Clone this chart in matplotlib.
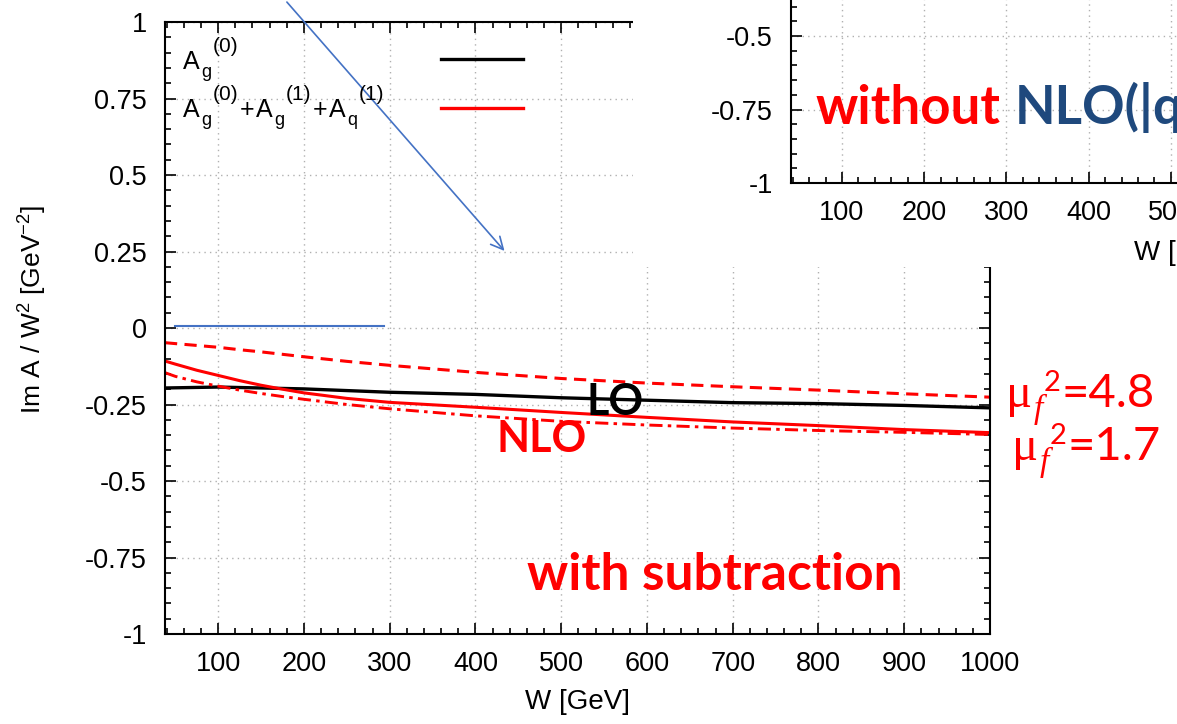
import matplotlib
matplotlib.use("Agg")
import matplotlib.pyplot as plt
from matplotlib.patches import Rectangle
from matplotlib.ticker import MultipleLocator

plt.rcParams["font.family"] = ["Liberation Sans", "DejaVu Sans"]
plt.rcParams["axes.unicode_minus"] = False
plt.rcParams["mathtext.fontset"] = "custom"
plt.rcParams["mathtext.rm"] = "Liberation Sans"
plt.rcParams["mathtext.it"] = "Liberation Sans:italic"

# curves (W in GeV, Im A / W^2 in GeV^-2)
w_lo = [38, 100, 200, 300, 400, 500, 600, 700, 800, 900, 1000]
lo = [-0.196, -0.193, -0.199, -0.210, -0.217, -0.228, -0.236, -0.244, -0.247, -0.253, -0.261]

w_nlo = [38, 50, 75, 100, 125, 150, 175, 200, 250, 300, 400, 500, 600, 700, 800, 900, 1000]
nlo = [-0.108, -0.118, -0.138, -0.155, -0.172, -0.187, -0.200, -0.212, -0.230, -0.243,
       -0.259, -0.276, -0.292, -0.307, -0.319, -0.332, -0.342]
nlo_mu48 = [-0.048, -0.051, -0.057, -0.063, -0.071, -0.078, -0.086, -0.094, -0.109, -0.122,
            -0.145, -0.165, -0.180, -0.192, -0.203, -0.215, -0.226]
nlo_mu17 = [-0.146, -0.158, -0.176, -0.190, -0.203, -0.214, -0.224, -0.233, -0.250, -0.264,
            -0.287, -0.305, -0.317, -0.327, -0.335, -0.341, -0.348]

xticks = [100, 200, 300, 400, 500, 600, 700, 800, 900, 1000]
yticks = [-1, -0.75, -0.5, -0.25, 0, 0.25, 0.5, 0.75, 1]
ytick_labels = ["-1", "-0.75", "-0.5", "-0.25", "0", "0.25", "0.5", "0.75", "1"]

# key entries, gnuplot enhanced text split into pieces
key_lo = [("A", "base"), ("g", "sub"), ("(0)", "sup")]
key_nlo = [("A", "base"), ("g", "sub"), ("(0)", "sup"), ("+", "base"),
           ("A", "base"), ("g", "sub"), ("(1)", "sup"), ("+", "base"),
           ("A", "base"), ("q", "sub"), ("(1)", "sup")]
mu_high = [("\u03bc", "mu"), ("f", "sub"), ("2", "sup"), ("=4.8", "base")]
mu_low = [("\u03bc", "mu"), ("f", "sub"), ("2", "sup"), ("=1.7", "base")]

# blue marks pasted on the slide
arrow_from = (178, 1.072)
arrow_to = (436, 0.245)
blue_x = [50, 293]
blue_y = [0.005, 0.005]

calibri = ["Lato", "DejaVu Sans"]
W, H = 1177, 724

key_spec = {"base": dict(fontsize=18, dy=0),
            "sub": dict(fontsize=13, dy=-8),
            "sup": dict(fontsize=15, dy=17)}
mu_spec = {"mu": dict(fontsize=35, dy=0, family=["Liberation Serif"]),
           "sub": dict(fontsize=24, dy=-11, family=["Liberation Serif"], style="italic"),
           "sup": dict(fontsize=21, dy=16, family=calibri),
           "base": dict(fontsize=34, dy=0, family=calibri)}


def style(a, fs):
    a.set_xlim(38, 1000)
    a.set_ylim(-1, 1)
    a.set_xticks(xticks)
    a.set_yticks(yticks)
    a.set_yticklabels(ytick_labels)
    a.xaxis.set_minor_locator(MultipleLocator(20))
    a.yaxis.set_minor_locator(MultipleLocator(0.05))
    a.tick_params(which="both", direction="in", top=True, right=True, width=1.2, colors="black")
    a.tick_params(which="major", length=8)
    a.tick_params(which="minor", length=4)
    a.tick_params(axis="x", pad=12, labelsize=fs)
    a.tick_params(axis="y", pad=13, labelsize=fs)
    a.grid(True, which="major", color="#b0b0b0", linestyle=(0, (1, 3)), linewidth=1)
    for s in a.spines.values():
        s.set_linewidth(1.5)


fig = plt.figure(figsize=(W / 100, H / 100), dpi=100)
renderer = fig.canvas.get_renderer()


def piece_text(x_px, y_px, pieces, spec, gap=1.5, **kw):
    # lay out sub/superscripts one after another, like gnuplot does
    x = x_px
    for txt, kind in pieces:
        opts = dict(spec[kind])
        dy = opts.pop("dy")
        t = fig.text(x / W, 1 - (y_px - dy) / H, txt, va="baseline", **opts, **kw)
        x += t.get_window_extent(renderer).width + gap


ax = fig.add_axes([165 / W, 1 - 634 / H, 825 / W, 612 / H])
style(ax, 19.5)

ax.plot(w_lo, lo, color="black", lw=2.4)
ax.plot(w_nlo, nlo, color="red", lw=2.2)
ax.plot(w_nlo, nlo_mu48, color="red", lw=2.2, linestyle=(0, (4, 2.4)))
ax.plot(w_nlo, nlo_mu17, color="red", lw=2.1, linestyle=(0, (4.5, 1.8, 1.2, 1.8)))

ax.set_xlabel("W [GeV]", fontsize=20)
ax.xaxis.set_label_coords(0.5, -0.09)
fig.text(33 / W, 1 - 309 / H, "Im A / W$^2$ [GeV$^{-2}$]", rotation=90,
         ha="center", va="center", fontsize=19)

piece_text(183, 69, key_lo, key_spec)
piece_text(183, 117, key_nlo, key_spec)
ax.plot([360, 455], [0.879, 0.879], color="black", lw=2.4)
ax.plot([360, 455], [0.719, 0.719], color="red", lw=2.4)

ax.text(530, -0.284, "LO", color="black", fontsize=31, fontweight="bold", family=calibri)
ax.text(424, -0.405, "NLO", color="red", fontsize=31, fontweight="bold", family=calibri)
ax.text(460, -0.856, "with subtraction", color="red", fontsize=37, fontweight="bold", family=calibri)

ax.plot(blue_x, blue_y, color="#4472c4", lw=1.5)
ax.annotate("", xy=arrow_to, xytext=arrow_from, annotation_clip=False,
            arrowprops=dict(arrowstyle="->", color="#4472c4", lw=1.2, mutation_scale=22))

piece_text(1006, 407, mu_high, mu_spec, gap=1, color="red")
piece_text(1012, 460, mu_low, mu_spec, gap=1, color="red")

# cropped piece of the second plot, pasted on top
fig.add_artist(Rectangle((633 / W, 1 - 267 / H), 1 - 633 / W, 267 / H,
                         transform=fig.transFigure, facecolor="white", edgecolor="none", zorder=1))
ax2 = fig.add_axes([791 / W, 1 - 183 / H, 791 / W, 588 / H], zorder=2)
style(ax2, 19.5)
ax2.set_xlabel("W [GeV]", fontsize=20)
ax2.xaxis.set_label_coords(0.5, -0.097)
ax2.text(68, -0.80, "without", color="red", fontsize=38, fontweight="bold", family=calibri)
ax2.text(310, -0.80, "NLO(|q|", color="#1f497d", fontsize=38, fontweight="bold", family=calibri)

fig.savefig("out.png", dpi=100)
